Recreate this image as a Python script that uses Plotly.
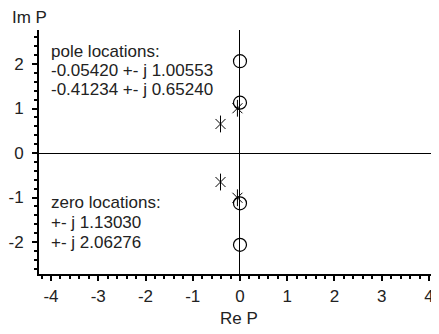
import plotly.graph_objects as go

pole_re = [-0.05420, -0.05420, -0.41234, -0.41234]
pole_im = [1.00553, -1.00553, 0.65240, -0.65240]
zero_re = [0.0, 0.0, 0.0, 0.0]
zero_im = [1.13030, -1.13030, 2.06276, -2.06276]
x_ticks = [-4, -3, -2, -1, 0, 1, 2, 3, 4]
x_tick_labels = ["-4", "-3", "-2", "-1", "0", "1", "2", "3", "4"]
y_ticks = [-2, -1, 0, 1, 2]
y_tick_labels = ["-2", "-1", "0", "1", "2"]
pole_lines = ["pole locations:", "-0.05420 +- j 1.00553", "-0.41234 +- j 0.65240"]
zero_lines = ["zero locations:", "+- j 1.13030", "+- j 2.06276"]

FONT = "Liberation Sans, Arial, Helvetica, sans-serif"
TXT = "#222"

fig = go.Figure()
fig.add_trace(go.Scatter(x=zero_re, y=zero_im, mode="markers",
                         marker=dict(symbol="circle-open", size=13, color="black",
                                     line=dict(width=1.2, color="black")),
                         hoverinfo="skip"))
fig.add_trace(go.Scatter(x=pole_re, y=pole_im, mode="markers",
                         marker=dict(symbol="line-ns-open", size=12, color="black",
                                     line=dict(width=1, color="black")),
                         hoverinfo="skip"))
fig.add_trace(go.Scatter(x=pole_re, y=pole_im, mode="markers",
                         marker=dict(symbol="x-thin-open", size=10, color="black",
                                     line=dict(width=1, color="black")),
                         hoverinfo="skip"))

for i, line in enumerate(pole_lines):
    fig.add_annotation(x=-4.05, y=2.764, xref="x", yref="y", text=line,
                       showarrow=False, xanchor="left", yanchor="middle", align="left",
                       yshift=-(21 + 19 * i),
                       font=dict(family=FONT, size=17, color=TXT))
for i, line in enumerate(zero_lines):
    fig.add_annotation(x=-4.05, y=0, xref="x", yref="y", text=line,
                       showarrow=False, xanchor="left", yanchor="middle", align="left",
                       yshift=-(49 + 20 * i),
                       font=dict(family=FONT, size=17, color=TXT))
fig.add_annotation(x=0, y=1, xref="paper", yref="paper", text="Im P",
                   showarrow=False, xanchor="center", yanchor="bottom",
                   xshift=-10, yshift=1,
                   font=dict(family=FONT, size=17, color=TXT))

# page body has an 8px margin, so the figure is laid out 8px up/left
fig.update_layout(
    width=439, height=334,
    margin=dict(l=31, r=8, t=22, b=68),
    plot_bgcolor="white", paper_bgcolor="white",
    showlegend=False,
    font=dict(family=FONT, size=17, color=TXT),
)
fig.update_xaxes(range=[-4.254, 4.212], tickvals=x_ticks, ticktext=x_tick_labels,
                 showgrid=False, automargin=False,
                 zeroline=True, zerolinecolor="black", zerolinewidth=1,
                 showline=True, linecolor="black", linewidth=2,
                 ticks="outside", ticklen=5, tickwidth=2, tickcolor="black",
                 ticklabelstandoff=1,
                 minor=dict(dtick=0.2, ticks="outside", ticklen=3, tickwidth=2,
                            tickcolor="black", showgrid=False),
                 title=dict(text="Re P", standoff=7, font=dict(size=17)),
                 tickfont=dict(size=17))
fig.update_yaxes(range=[-2.719, 2.764], tickvals=y_ticks, ticktext=y_tick_labels,
                 showgrid=False, automargin=False,
                 zeroline=True, zerolinecolor="black", zerolinewidth=1,
                 showline=True, linecolor="black", linewidth=2,
                 ticks="outside", ticklen=5, tickwidth=2, tickcolor="black",
                 ticklabelstandoff=5,
                 minor=dict(dtick=0.2, ticks="outside", ticklen=3, tickwidth=2,
                            tickcolor="black", showgrid=False),
                 tickfont=dict(size=17))

fig.write_html("out.html")
